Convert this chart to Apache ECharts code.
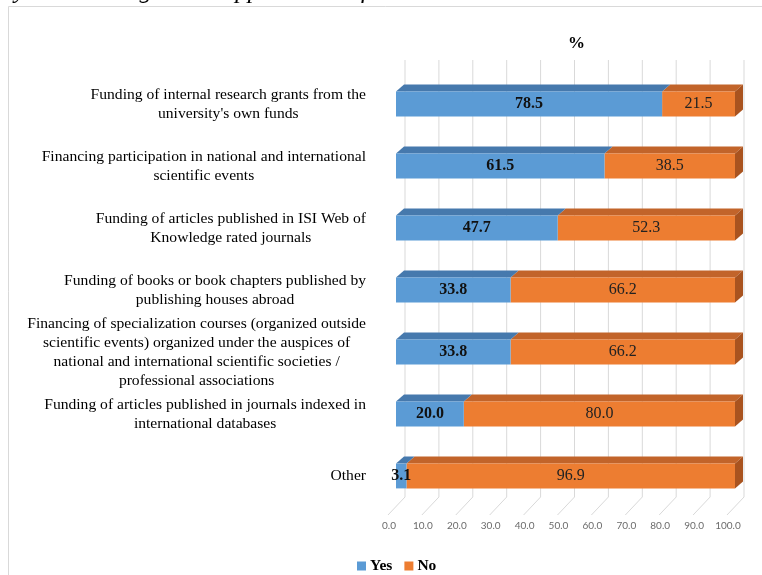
<!DOCTYPE html>
<html>
<head>
<meta charset="utf-8">
<script src="https://cdn.jsdelivr.net/npm/echarts@6/dist/echarts.min.js"></script>
<style>
  html, body { margin: 0; padding: 0; background: #fff; }
  #chart { width: 762px; height: 575px; }
</style>
</head>
<body>
<div id="chart"></div>
<script>
// chart data
const categories = [
  "Funding of internal research grants from the\nuniversity's own funds",
  "Financing participation in national and international\nscientific events",
  "Funding of articles published in ISI Web of\nKnowledge rated journals",
  "Funding of books or book chapters published by\npublishing houses abroad",
  "Financing of specialization courses (organized outside\nscientific events) organized under the auspices of\nnational and international scientific societies /\nprofessional associations",
  "Funding of articles published in journals indexed in\ninternational databases",
  "Other"
];
const yesValues = [78.5, 61.5, 47.7, 33.8, 33.8, 20.0, 3.1];
const noValues = [21.5, 38.5, 52.3, 66.2, 66.2, 80.0, 96.9];
const xTicks = [0, 10, 20, 30, 40, 50, 60, 70, 80, 90, 100];
const titleText = 'ay to encourage and support scientific research activities';

const SERIF = '"Liberation Serif", "Times New Roman", serif';
const DX = 8, DY = 7;     // bar depth (3d look)
const BX = 9, BY = 10;    // back wall offset
const FX = 8, FY = 8;     // floor front offset

// bars as 3d blocks: top face + front face (+ right side for the last segment)
function barRenderer(face, top, side, withSide, bold, labelColor) {
  return function (params, api) {
    const cat = api.value(0);
    const s = api.value(1), e = api.value(2);
    const a = api.coord([s, cat]);
    const b = api.coord([e, cat]);
    const h = api.size([0, 1])[1] * 0.4;
    const y0 = a[1] - h / 2;
    const children = [
      { type: 'polygon', shape: { points: [[a[0], y0], [b[0], y0], [b[0] + DX, y0 - DY], [a[0] + DX, y0 - DY]] },
        style: { fill: top } },
      { type: 'rect', shape: { x: a[0], y: y0, width: b[0] - a[0], height: h }, style: { fill: face } }
    ];
    if (withSide) {
      children.push({ type: 'polygon',
        shape: { points: [[b[0], y0], [b[0] + DX, y0 - DY], [b[0] + DX, y0 + h - DY], [b[0], y0 + h]] },
        style: { fill: side } });
    }
    children.push({
      type: 'text', z2: 50,
      style: {
        text: (e - s).toFixed(1), x: (a[0] + b[0]) / 2, y: a[1],
        align: 'center', verticalAlign: 'middle',
        fontSize: 16, fontWeight: bold ? 'bold' : 'normal', fontFamily: SERIF, fill: labelColor
      }
    });
    return { type: 'group', children: children };
  };
}

const yesData = yesValues.map((v, i) => [i, 0, v]);
const noData = noValues.map((v, i) => [i, yesValues[i], yesValues[i] + v]);

const chart = echarts.init(document.getElementById('chart'));
chart.setOption({
  backgroundColor: '#fff',
  animation: false,
  graphic: [
    { type: 'rect', z: -10, shape: { x: 8.5, y: 6.5, width: 800, height: 600 },
      style: { fill: 'none', stroke: '#d9d9d9', lineWidth: 1 } },
    { type: 'text', left: 2, top: -21,
      style: { text: titleText, font: 'italic 25px ' + SERIF, fill: '#000' } },
    { type: 'text', left: 568, top: 35,
      style: { text: '%', font: 'bold 17px ' + SERIF, fill: '#000' } }
  ],
  grid: { left: 396, right: 27, top: 73, bottom: 68 },
  legend: {
    left: 352, top: 553,
    itemWidth: 9, itemHeight: 9, itemGap: 12,
    textStyle: { fontFamily: SERIF, fontSize: 15.5, fontWeight: 'bold', color: '#000', padding: [0, 0, 0, -1] },
    data: [{ name: 'Yes', icon: 'rect' }, { name: 'No', icon: 'rect' }]
  },
  xAxis: {
    type: 'value', min: 0, max: 100, interval: 10,
    axisLine: { show: false }, axisTick: { show: false }, splitLine: { show: false },
    axisLabel: {
      margin: 14, color: '#6b6b6b', fontSize: 10, fontFamily: 'Lato, sans-serif',
      padding: [0, 14, 0, 0],
      formatter: v => v.toFixed(1)
    }
  },
  yAxis: {
    type: 'category', inverse: true, data: categories,
    axisLine: { show: false }, axisTick: { show: false }, splitLine: { show: false },
    axisLabel: {
      interval: 0, margin: 30, align: 'right',
      formatter: v => v.split('\n').map(l => '{c|' + l + '}').join('\n'),
      rich: { c: { align: 'center', fontSize: 15.6, lineHeight: 19, fontFamily: SERIF, color: '#000' } }
    }
  },
  series: [
    {
      name: 'grid', type: 'custom', z: 1, silent: true,
      data: xTicks.map(v => [v, 0]),
      renderItem: function (params, api) {
        const x = api.coord([api.value(0), 0])[0];
        const cs = params.coordSys;
        const bottom = cs.y + cs.height;
        return {
          type: 'polyline',
          shape: { points: [[x + BX, cs.y - BY - 3], [x + BX, bottom - BY], [x - FX, bottom + FY]] },
          style: { stroke: '#d9d9d9', lineWidth: 1, fill: null }
        };
      }
    },
    {
      name: 'Yes', type: 'custom', z: 3,
      itemStyle: { color: '#5B9BD5' },
      encode: { x: [1, 2], y: 0 },
      data: yesData,
      renderItem: barRenderer('#5B9BD5', '#4679AD', '#3F6E9C', false, true, '#111')
    },
    {
      name: 'No', type: 'custom', z: 2,
      itemStyle: { color: '#ED7D31' },
      encode: { x: [1, 2], y: 0 },
      data: noData,
      renderItem: barRenderer('#ED7D31', '#C2642A', '#A9531F', true, false, '#222')
    }
  ]
});
</script>
</body>
</html>
